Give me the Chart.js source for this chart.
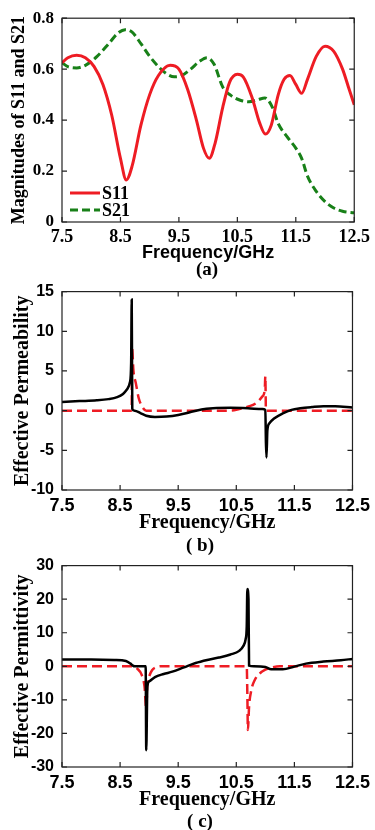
<!DOCTYPE html>
<html>
<head>
<meta charset="utf-8">
<script src="https://cdn.jsdelivr.net/npm/chart.js@4.4.0/dist/chart.umd.min.js"></script>
<style>
body{margin:0;background:#fff;width:375px;height:830px;position:relative;overflow:hidden}
canvas{position:absolute;left:0}
.cap{position:absolute;width:100px;text-align:center;font:bold 19px "Liberation Serif",serif;line-height:20px;color:#000}
</style>
</head>
<body>
<canvas id="chartA" width="375" height="264" style="top:0"></canvas>
<canvas id="chartB" width="375" height="261" style="top:274px"></canvas>
<canvas id="chartC" width="375" height="264" style="top:548px"></canvas>
<div class="cap" style="left:157px;top:259px">(a)</div>
<div class="cap" style="left:150px;top:535px">( b)</div>
<div class="cap" style="left:150px;top:811px">( c)</div>
<script>
// shared x axis
let xTicks = [7.5, 8.5, 9.5, 10.5, 11.5, 12.5];
let xTickLabels = ['7.5', '8.5', '9.5', '10.5', '11.5', '12.5'];

// (a) S-parameters
let s11Freq = [7.5, 7.6, 7.75, 7.9, 8.05, 8.2, 8.35, 8.5, 8.6, 8.7, 8.85, 9.0, 9.15, 9.35, 9.5, 9.65, 9.8, 9.92, 10.02, 10.12, 10.25, 10.37, 10.5, 10.6, 10.75, 10.88, 10.98, 11.08, 11.2, 11.3, 11.4, 11.5, 11.6, 11.7, 11.85, 12.0, 12.15, 12.3, 12.4, 12.5];
let s11Val = [0.625, 0.645, 0.655, 0.645, 0.61, 0.54, 0.42, 0.25, 0.165, 0.22, 0.38, 0.5, 0.575, 0.615, 0.6, 0.52, 0.4, 0.29, 0.25, 0.31, 0.45, 0.55, 0.58, 0.57, 0.49, 0.39, 0.345, 0.38, 0.5, 0.56, 0.575, 0.54, 0.505, 0.56, 0.65, 0.69, 0.67, 0.6, 0.53, 0.46];
let s21Freq = [7.5, 7.6, 7.75, 7.9, 8.1, 8.3, 8.45, 8.58, 8.7, 8.85, 9.0, 9.15, 9.3, 9.42, 9.55, 9.7, 9.85, 9.98, 10.1, 10.25, 10.4, 10.55, 10.7, 10.85, 10.97, 11.1, 11.2, 11.35, 11.5, 11.6, 11.7, 11.85, 12.0, 12.15, 12.3, 12.5];
let s21Val = [0.625, 0.61, 0.605, 0.615, 0.65, 0.7, 0.74, 0.755, 0.745, 0.7, 0.65, 0.61, 0.58, 0.57, 0.575, 0.6, 0.63, 0.645, 0.62, 0.53, 0.495, 0.478, 0.472, 0.48, 0.487, 0.45, 0.386, 0.335, 0.29, 0.25, 0.18, 0.12, 0.08, 0.055, 0.042, 0.036];
let yTicksA = [0, 0.2, 0.4, 0.6, 0.8];
let yLabelsA = ['0', '0.2', '0.4', '0.6', '0.8'];

// (b) permeability
let muReFreq = [7.5, 7.8, 8.1, 8.3, 8.45, 8.55, 8.62, 8.67, 8.69, 8.7, 8.71, 8.75, 8.85, 8.95, 9.1, 9.3, 9.5, 9.7, 9.9, 10.1, 10.4, 10.7, 10.95, 11.0, 11.01, 11.02, 11.035, 11.07, 11.15, 11.3, 11.45, 11.6, 11.8, 12.0, 12.2, 12.5];
let muReVal = [1.1, 1.2, 1.3, 1.45, 1.7, 2.1, 2.7, 3.6, 6, 14, 0.2, 0, -0.3, -0.65, -0.8, -0.75, -0.55, -0.2, 0.15, 0.3, 0.35, 0.3, 0.2, 0.1, -4, -5.9, -2.5, -1.6, -1.0, -0.35, 0.1, 0.3, 0.45, 0.55, 0.55, 0.4];
let muImFreq = [7.5, 8.69, 8.7, 8.705, 8.73, 8.77, 8.82, 8.88, 8.95, 10.4, 10.55, 10.7, 10.85, 10.95, 10.99, 11.0, 11.01, 11.02, 12.5];
let muImVal = [0, 0, 0.2, 8, 5, 3.5, 1.6, 0.5, 0, 0, 0.2, 0.5, 1.0, 1.8, 2.6, 4.3, 0.1, 0, 0];
let yTicksB = [-10, -5, 0, 5, 10, 15];
let yLabelsB = ['-10', '-5', '0', '5', '10', '15'];

// (c) permittivity
let epReFreq = [7.5, 8.0, 8.4, 8.6, 8.68, 8.72, 8.75, 8.94, 8.95, 8.97, 9.0, 9.1, 9.25, 9.4, 9.6, 9.8, 10.0, 10.2, 10.4, 10.55, 10.62, 10.66, 10.68, 10.69, 10.71, 10.72, 10.8, 11.0, 11.1, 11.3, 11.5, 11.7, 12.0, 12.3, 12.5];
let epReVal = [2.0, 2.0, 1.9, 1.6, 0.8, 0.2, 0, 0, -25, -6, -4.5, -3.2, -2.3, -1.6, -0.3, 1.0, 1.9, 2.6, 3.5, 4.6, 6, 8, 12, 23, 20, 0.2, 0, -0.2, -0.9, -0.9, -0.1, 0.8, 1.4, 1.8, 2.2];
let epImFreq = [7.5, 8.7, 8.8, 8.87, 8.92, 8.95, 8.97, 9.0, 9.05, 9.12, 9.2, 10.68, 10.69, 10.7, 10.72, 10.76, 10.82, 10.9, 11.0, 11.1, 11.25, 12.5];
let epImVal = [0, 0, -0.8, -2.5, -6, -12.5, -5, -3, -1.2, -0.3, 0, 0, -8, -19, -12, -7, -4, -2.2, -1.0, -0.4, 0, 0];
let yTicksC = [-30, -20, -10, 0, 10, 20, 30];
let yLabelsC = ['-30', '-20', '-10', '0', '10', '20', '30'];

const RED = 'rgb(238,28,36)';
const GREEN = 'rgb(24,128,24)';

function pts(xs, ys) { return xs.map((x, i) => ({x: x, y: ys[i]})); }

// box around plot area with inward tick marks, plus optional legend
const framePlugin = {
  id: 'frame',
  afterDatasetsDraw(chart) {
    const {ctx, chartArea: a} = chart;
    const x = chart.scales.x, y = chart.scales.y;
    ctx.save();
    ctx.strokeStyle = '#222';
    ctx.lineWidth = 1.2;
    ctx.setLineDash([]);
    ctx.strokeRect(a.left, a.top, a.right - a.left, a.bottom - a.top);
    ctx.beginPath();
    x.ticks.forEach(t => {
      const p = x.getPixelForValue(t.value);
      ctx.moveTo(p, a.bottom); ctx.lineTo(p, a.bottom - 5);
      ctx.moveTo(p, a.top); ctx.lineTo(p, a.top + 5);
    });
    y.ticks.forEach(t => {
      const p = y.getPixelForValue(t.value);
      ctx.moveTo(a.left, p); ctx.lineTo(a.left + 5, p);
      ctx.moveTo(a.right, p); ctx.lineTo(a.right - 5, p);
    });
    ctx.stroke();
    const lg = chart.options.plugins.frame && chart.options.plugins.frame.legend;
    if (lg) {
      chart.data.datasets.forEach((ds, i) => {
        const yy = lg.y + i * lg.gap;
        ctx.strokeStyle = ds.borderColor;
        ctx.lineWidth = ds.borderWidth;
        ctx.setLineDash(ds.borderDash || []);
        ctx.beginPath();
        ctx.moveTo(lg.x, yy); ctx.lineTo(lg.x + 30, yy);
        ctx.stroke();
        ctx.setLineDash([]);
        ctx.fillStyle = '#000';
        ctx.font = 'bold 18px "Liberation Serif"';
        ctx.textBaseline = 'middle';
        ctx.fillText(ds.label, lg.x + 32, yy + 1);
      });
    }
    ctx.restore();
  }
};

function makeChart(id, cfg) {
  return new Chart(document.getElementById(id), {
    type: 'line',
    data: {datasets: cfg.datasets},
    plugins: [framePlugin],
    options: {
      responsive: false,
      animation: false,
      layout: {padding: {top: 14, right: 19, left: 0, bottom: 0}},
      elements: {point: {radius: 0}, line: {cubicInterpolationMode: 'monotone', fill: false}},
      plugins: {legend: {display: false}, tooltip: {enabled: false}, frame: {legend: cfg.legend}},
      scales: {
        x: {
          type: 'linear', min: 7.5, max: 12.5,
          grid: {display: false, drawTicks: false}, border: {display: false},
          afterBuildTicks: s => { s.ticks = xTicks.map(v => ({value: v})); },
          afterFit: s => { s.height = cfg.xHeight; },
          ticks: {padding: 5, color: '#000', maxRotation: 0, autoSkip: false,
            font: {family: cfg.xTickFamily, weight: 'bold', size: 18},
            callback: (v, i) => xTickLabels[i]},
          title: {display: true, text: 'Frequency/GHz', color: '#000', padding: {top: 0, bottom: 0},
            font: {family: cfg.xTitleFamily, weight: 'bold', size: cfg.xTitleSize}}
        },
        y: {
          type: 'linear', min: cfg.yTicks[0], max: cfg.yTicks[cfg.yTicks.length - 1],
          grid: {display: false, drawTicks: false}, border: {display: false},
          afterBuildTicks: s => { s.ticks = cfg.yTicks.map(v => ({value: v})); },
          afterFit: s => { s.width = 62; },
          ticks: {padding: 8, color: '#000', autoSkip: false,
            font: {family: cfg.yTickFamily, weight: 'bold', size: cfg.yTickSize},
            callback: (v, i) => cfg.yLabels[i]},
          title: {display: true, text: cfg.yTitle, color: '#000', padding: {top: cfg.yTitlePad, bottom: 0},
            font: {family: 'Liberation Serif', weight: 'bold', size: cfg.yTitleSize}}
        }
      }
    }
  });
}

makeChart('chartA', {
  datasets: [
    {label: 'S11', data: pts(s11Freq, s11Val), borderColor: RED, borderWidth: 3},
    {label: 'S21', data: pts(s21Freq, s21Val), borderColor: GREEN, borderWidth: 3, borderDash: [8, 4]}
  ],
  legend: {x: 70, y: 193, gap: 17},
  xHeight: 42, xTickFamily: 'Liberation Serif', xTitleFamily: 'Liberation Sans', xTitleSize: 18,
  yTicks: yTicksA, yLabels: yLabelsA, yTickFamily: 'Liberation Serif', yTickSize: 17,
  yTitle: 'Magnitudes of S11 and S21', yTitleSize: 18, yTitlePad: 9
});

makeChart('chartB', {
  datasets: [
    {label: 'Re', data: pts(muReFreq, muReVal), borderColor: '#000', borderWidth: 2.5},
    {label: 'Im', data: pts(muImFreq, muImVal), borderColor: RED, borderWidth: 2.5, borderDash: [10, 5]}
  ],
  xHeight: 45, xTickFamily: 'Liberation Sans', xTitleFamily: 'Liberation Serif', xTitleSize: 20,
  yTicks: yTicksB, yLabels: yLabelsB, yTickFamily: 'Liberation Sans', yTickSize: 16,
  yTitle: 'Effective Permeability', yTitleSize: 20, yTitlePad: 11
});

makeChart('chartC', {
  datasets: [
    {label: 'Re', data: pts(epReFreq, epReVal), borderColor: '#000', borderWidth: 2.5},
    {label: 'Im', data: pts(epImFreq, epImVal), borderColor: RED, borderWidth: 2.5, borderDash: [10, 5]}
  ],
  xHeight: 45, xTickFamily: 'Liberation Sans', xTitleFamily: 'Liberation Serif', xTitleSize: 20,
  yTicks: yTicksC, yLabels: yLabelsC, yTickFamily: 'Liberation Sans', yTickSize: 16,
  yTitle: 'Effective Permittivity', yTitleSize: 20, yTitlePad: 11
});
</script>
</body>
</html>
